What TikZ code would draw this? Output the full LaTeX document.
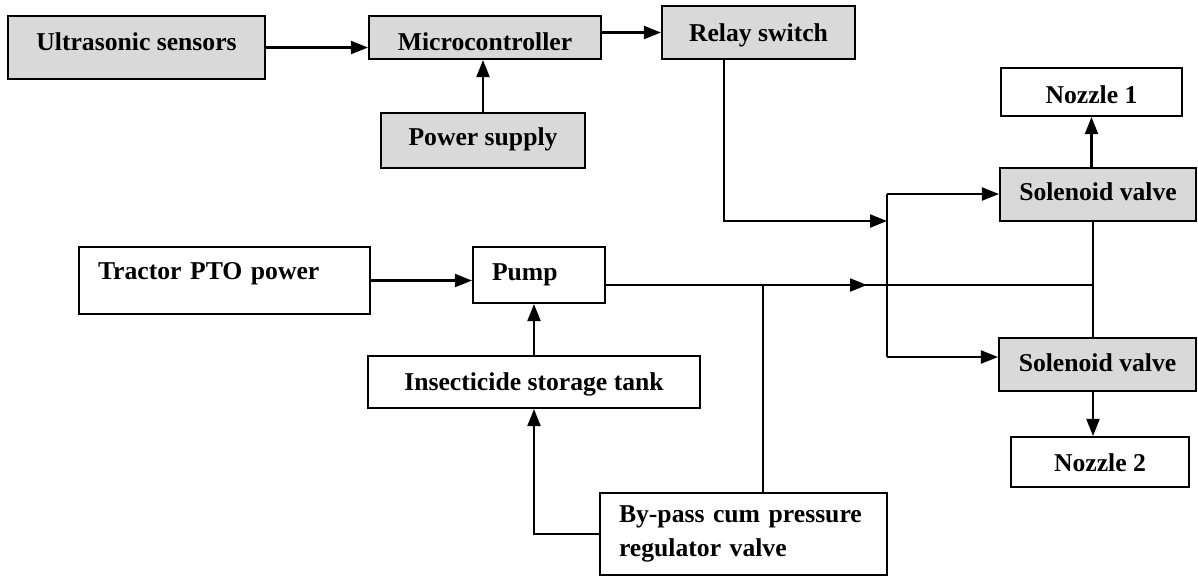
\documentclass[tikz,border=0pt]{standalone}
\usepackage{fontspec}
\setmainfont{Liberation Serif}
\usetikzlibrary{arrows.meta}
\begin{document}
\begin{tikzpicture}[x=1cm,y=1cm,
  line width=0.6pt, >={Triangle[length=0.17cm,width=0.13cm]},
  blk/.style={draw, rectangle, inner sep=0pt, font=\bfseries\fontsize{7.3}{9.7}\selectfont},
  grey/.style={blk, fill=black!15}]
\useasboundingbox (0,0) rectangle (11.98,-5.76);
% control side
\node[grey, minimum width=2.57cm, minimum height=0.63cm, text height=0.34cm, text depth=0.29cm] (us) at (1.365,-0.475) {Ultrasonic sensors};
\node[grey, minimum width=2.32cm, minimum height=0.43cm, text height=0.34cm, text depth=0.09cm] (mc) at (4.85,-0.375) {Microcontroller};
\node[grey, minimum width=1.93cm, minimum height=0.53cm, text height=0.35cm, text depth=0.18cm] (rs) at (7.585,-0.325) {Relay switch};
\node[grey, minimum width=2.04cm, minimum height=0.55cm, text height=0.32cm, text depth=0.23cm] (ps) at (4.83,-1.405) {Power supply};
% valves and nozzles
\node[blk, minimum width=1.81cm, minimum height=0.48cm, text height=0.35cm, text depth=0.13cm] (n1) at (10.915,-0.92) {Nozzle 1};
\node[grey, minimum width=1.96cm, minimum height=0.53cm, text height=0.32cm, text depth=0.21cm] (sv1) at (10.98,-1.945) {Solenoid valve};
\node[grey, minimum width=1.97cm, minimum height=0.53cm, text height=0.33cm, text depth=0.20cm] (sv2) at (10.975,-3.645) {Solenoid valve};
\node[blk, minimum width=1.78cm, minimum height=0.50cm, text height=0.34cm, text depth=0.16cm] (n2) at (11.0,-4.62) {Nozzle 2};
% liquid side
\node[blk, inner xsep=0.19cm, text width=2.53cm, align=left, text height=0.32cm, text depth=0.35cm] (tp) at (2.245,-2.805) {Tractor PTO power};
\node[blk, inner xsep=0.19cm, text width=0.94cm, align=left, text height=0.33cm, text depth=0.23cm] (pu) at (5.39,-2.75) {Pump};
\node[blk, minimum width=3.32cm, minimum height=0.52cm, text height=0.34cm, text depth=0.18cm] (tk) at (5.34,-3.82) {Insecticide storage tank};
\node[blk, inner xsep=0.19cm, text width=2.49cm, minimum height=0.82cm, align=left] (bp) at (7.435,-5.34) {By-pass cum pressure\\regulator valve};
% junctions
\coordinate (jr) at (8.87,-2.21);
\coordinate (jt) at (8.87,-1.94);
\coordinate (jb) at (8.87,-3.57);
\coordinate (jv) at (10.93,-2.85);
\coordinate (ja) at (8.67,-2.85);
% connectors
\draw[->] (us.east) -- (us.east -| mc.west);
\draw[->] (mc.east |- rs) -- (rs.west);
\draw[->] (ps.north) -- (ps.north |- mc.south);
\draw[->] ([xshift=0.63cm]rs.south west) |- (jr);
\draw (jt) -- (jb);
\draw[->] (jt) -- (jt -| sv1.west);
\draw[->] (jb) -- (jb -| sv2.west);
\draw[->] (tp.east) -- (tp.east -| pu.west);
\draw[->] (tk.north) -- (tk.north |- pu.south);
\draw ([yshift=-0.1cm]pu.east) -- (jv);
\draw[->] ([xshift=1.64cm]bp.north west) |- (ja);
\draw[->] (bp.west) -| (tk.south);
\draw (sv1.south -| jv) -- (sv2.north -| jv);
\draw[->] (n1.south |- sv1.north) -- (n1.south);
\draw[->] (sv2.south -| jv) -- (n2.north -| jv);
\end{tikzpicture}
\end{document}
